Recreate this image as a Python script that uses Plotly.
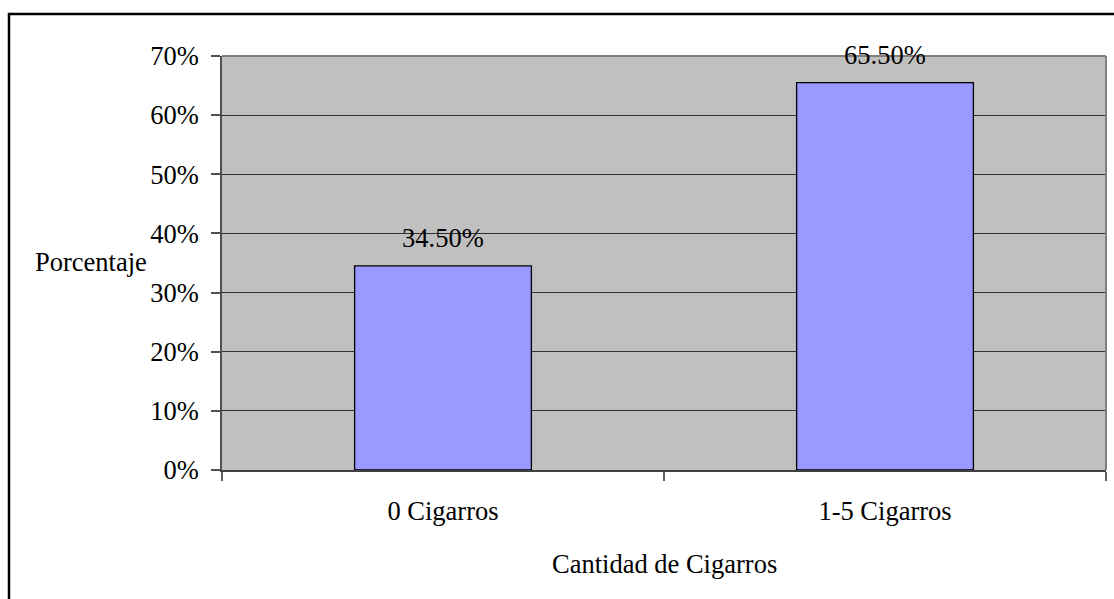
import plotly.graph_objects as go

categories = ["0 Cigarros", "1-5 Cigarros"]
values = [0.345, 0.655]
labels = ["34.50%", "65.50%"]
y_title = "Porcentaje"
x_title = "Cantidad de Cigarros"

W, H = 1114, 599
L, R, T, B = 222, 8, 56, 129
pw, ph = W - L - R, H - T - B

font = dict(family="Liberation Serif, Times New Roman, serif", size=26.5, color="black")

fig = go.Figure()
fig.add_trace(go.Bar(
    x=categories, y=values,
    marker=dict(color="#9999FF", line=dict(color="black", width=1.3)),
    hoverinfo="skip",
))

annotations = []
for c, v, t in zip(categories, values, labels):
    annotations.append(dict(x=c, y=v, xref="x", yref="y", text=t, showarrow=False,
                            yanchor="middle", xanchor="center", yshift=28, font=font))
annotations.append(dict(x=(33 - L) / pw, y=(H - B - 262) / ph, xref="paper", yref="paper",
                        text=y_title, showarrow=False, xanchor="left", yanchor="middle", font=font))
annotations.append(dict(x=(664 - L) / pw, y=(H - B - 564) / ph, xref="paper", yref="paper",
                        text=x_title, showarrow=False, xanchor="center", yanchor="middle", font=font))

shapes = [
    dict(type="line", xref="paper", yref="paper", x0=0, x1=1, y0=1, y1=1,
         line=dict(color="#808080", width=2), layer="above"),
    dict(type="line", xref="paper", yref="paper", x0=1, x1=1, y0=0, y1=1,
         line=dict(color="#808080", width=2), layer="above"),
    dict(type="rect", xref="paper", yref="paper",
         x0=(9 - L) / pw, x1=(W + 20 - L) / pw,
         y0=(H - B - (H + 20)) / ph, y1=(H - B - 14) / ph,
         line=dict(color="black", width=2.5), fillcolor="rgba(0,0,0,0)", layer="above"),
]

fig.update_layout(
    width=W, height=H,
    margin=dict(l=L, r=R, t=T, b=B, pad=0),
    paper_bgcolor="white", plot_bgcolor="#C0C0C0",
    bargap=0.6, showlegend=False,
    font=font,
    annotations=annotations, shapes=shapes,
    xaxis=dict(
        type="category", showgrid=False, showline=True, linecolor="#404040", linewidth=2,
        ticks="outside", tickson="boundaries", ticklen=9, tickcolor="#606060", tickwidth=2,
        tickfont=font, ticklabelstandoff=16, fixedrange=True,
    ),
    yaxis=dict(
        range=[0, 0.7], dtick=0.1, tickformat=".0%", showgrid=True, gridcolor="#303030", gridwidth=1,
        showline=True, linecolor="#505050", linewidth=1.5, zeroline=False,
        ticks="outside", ticklen=9, tickcolor="#505050", tickwidth=1.5,
        tickfont=font, ticklabelstandoff=7, fixedrange=True,
    ),
)

fig.write_html("out.html", config={"displayModeBar": False},
               post_script="document.body.style.margin='0';document.body.style.overflow='hidden';")
